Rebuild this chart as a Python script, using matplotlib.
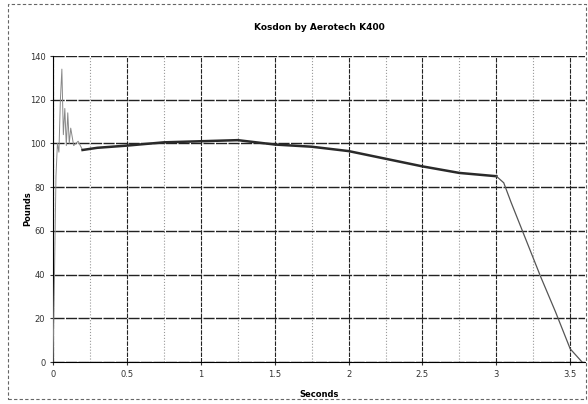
import matplotlib.pyplot as plt

# thrust curve
seconds = [0.0, 0.01, 0.02, 0.03, 0.04, 0.05, 0.06, 0.07, 0.08, 0.09, 0.10, 0.11,
           0.12, 0.14, 0.17, 0.20, 0.30, 0.50, 0.75, 1.00, 1.25, 1.50, 1.75,
           2.00, 2.25, 2.50, 2.75, 3.00, 3.05, 3.10, 3.20, 3.30, 3.40, 3.50, 3.58]
pounds = [0, 40, 85, 100, 96, 120, 134, 104, 116, 99, 114, 100,
          107, 99, 101, 97, 98, 99, 100.5, 101, 101.5, 99.5, 98.5,
          96.5, 93, 89.5, 86.5, 85, 82, 73, 56, 39, 23, 6, 0]
x_ticks = [0, 0.5, 1, 1.5, 2, 2.5, 3, 3.5]
x_tick_labels = ["0", "0.5", "1", "1.5", "2", "2.5", "3", "3.5"]
y_ticks = [0, 20, 40, 60, 80, 100, 120, 140]

fig = plt.figure(figsize=(5.88, 4.04), dpi=100)
ax = fig.add_axes([53 / 588, 1 - 362 / 404, (585 - 53) / 588, (362 - 56) / 404])

# minor (quarter second) grid, lighter
for t in [0.25, 0.75, 1.25, 1.75, 2.25, 2.75, 3.25]:
    ax.axvline(t, color="#999999", lw=0.8, ls=":", zorder=1)
for t in x_ticks:
    ax.axvline(t, color="#222222", lw=0.8, ls=(0, (4, 1)), zorder=1)
for p in y_ticks:
    ax.axhline(p, color="#222222", lw=1.0, ls=(0, (8, 1)), zorder=1)

# ignition spike is faint on the scan, the burn itself is heavy
n = seconds.index(0.20) + 1
m = seconds.index(3.00) + 1
ax.plot(seconds[:n], pounds[:n], color="#888888", lw=0.7, zorder=3)
ax.plot(seconds[n - 1:m], pounds[n - 1:m], color="#2a2a2a", lw=1.8, zorder=3)
ax.plot(seconds[m - 1:], pounds[m - 1:], color="#555555", lw=0.9, zorder=3)

ax.set_xlim(0, 3.6)
ax.set_ylim(0, 140)
ax.set_xticks(x_ticks)
ax.set_xticklabels(x_tick_labels)
ax.set_yticks(y_ticks)
ax.tick_params(labelsize=6, length=2, colors="#333333")
for s in ["top", "right"]:
    ax.spines[s].set_visible(False)
ax.spines["left"].set_linewidth(0.8)
ax.spines["bottom"].set_linewidth(0.8)

ax.set_title("Kosdon by Aerotech K400", fontsize=6.5, fontweight="bold", pad=19)
ax.set_xlabel("Seconds", fontsize=6, fontweight="bold", labelpad=8)
ax.set_ylabel("Pounds", fontsize=6, fontweight="bold", labelpad=-2)

# dashed scan border around the chart
fig.patches.append(plt.Rectangle((8 / 588, 5 / 404), 578 / 588, 395 / 404,
                                 transform=fig.transFigure, fill=False,
                                 ec="#666666", lw=0.8, ls=(0, (3, 2))))

fig.savefig("out.png", dpi=100)
